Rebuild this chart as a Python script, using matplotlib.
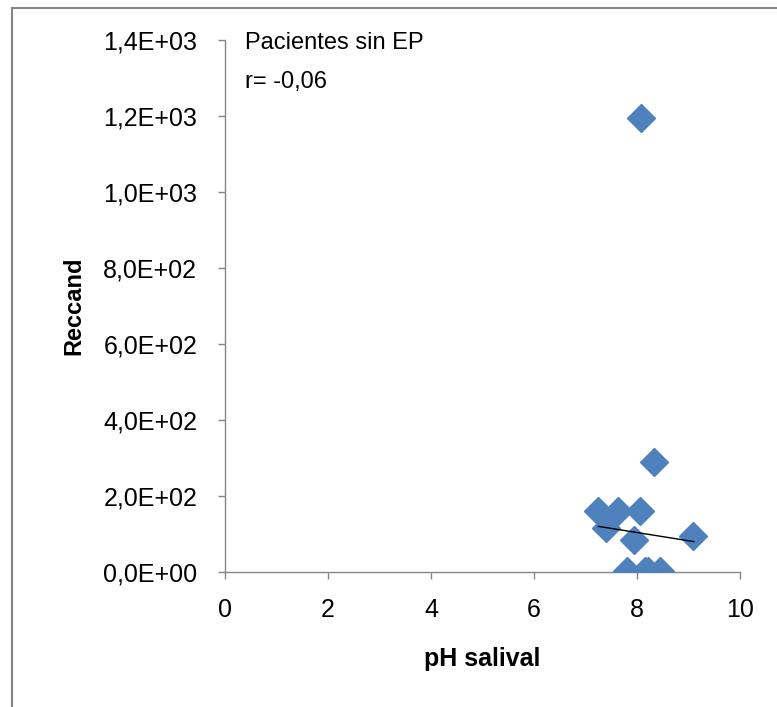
import matplotlib
matplotlib.use('Agg')
import matplotlib.pyplot as plt
from matplotlib.lines import Line2D
from matplotlib.ticker import FuncFormatter

plt.rcParams['font.family'] = ['Liberation Sans', 'DejaVu Sans']

# ===== data =====
ph_salival = [8.08, 8.33, 7.24, 7.63, 8.06, 7.40, 7.94, 9.09, 7.80, 8.15, 8.22, 8.45]
reccand = [1195, 289, 160, 160, 160, 116, 84, 95, 3, 3, 3, 3]

# trendline end points (as drawn in the original)
trend_x = [7.25, 9.10]
trend_y = [120, 80]

x_ticks = [0, 2, 4, 6, 8, 10]
y_ticks = [0, 200, 400, 600, 800, 1000, 1200, 1400]

annot_lines = ['Pacientes sin EP', 'r= -0,06']

# ===== figure =====
fig = plt.figure(figsize=(7.77, 7.07), dpi=100)
ax = fig.add_axes([0.2896, 0.191, 0.6628, 0.7524])

ax.plot(ph_salival, reccand, linestyle='none', marker='D', markersize=14,
        color='#4F81BD', markeredgecolor='#4F81BD', zorder=3)
ax.plot(trend_x, trend_y, color='black', lw=1.0, zorder=4)

ax.set_xlim(0, 10)
ax.set_ylim(0, 1400)
ax.set_xticks(x_ticks)
ax.set_yticks(y_ticks)


def sci_comma(v, pos):
    s = '%.1E' % v
    return s.replace('.', ',')


ax.yaxis.set_major_formatter(FuncFormatter(sci_comma))

for side in ['top', 'right']:
    ax.spines[side].set_visible(False)
for side in ['left', 'bottom']:
    ax.spines[side].set_color('#868686')
    ax.spines[side].set_linewidth(1.0)
ax.spines['left'].set_zorder(1)

ax.tick_params(axis='both', direction='out', length=5, width=1.0,
               color='#868686', labelsize=18, labelcolor='#000000')
ax.tick_params(axis='y', pad=15)
ax.tick_params(axis='x', pad=14)

ax.set_xlabel('pH salival', fontsize=18, fontweight='bold', labelpad=18)
ax.set_ylabel('Reccand', fontsize=17, fontweight='bold', labelpad=13)

ax.text(0.039, 1.016, annot_lines[0], transform=ax.transAxes, fontsize=17,
        va='top', ha='left')
ax.text(0.039, 0.942, annot_lines[1], transform=ax.transAxes, fontsize=17,
        va='top', ha='left')

# outer chart frame (only left and top edges visible in the crop)
fig.add_artist(Line2D([12 / 777, 12 / 777], [0, 1 - 8 / 707],
                      transform=fig.transFigure, color='#868686', lw=1.5))
fig.add_artist(Line2D([12 / 777, 1], [1 - 8 / 707, 1 - 8 / 707],
                      transform=fig.transFigure, color='#868686', lw=1.5))

fig.savefig('out.png', dpi=100)
